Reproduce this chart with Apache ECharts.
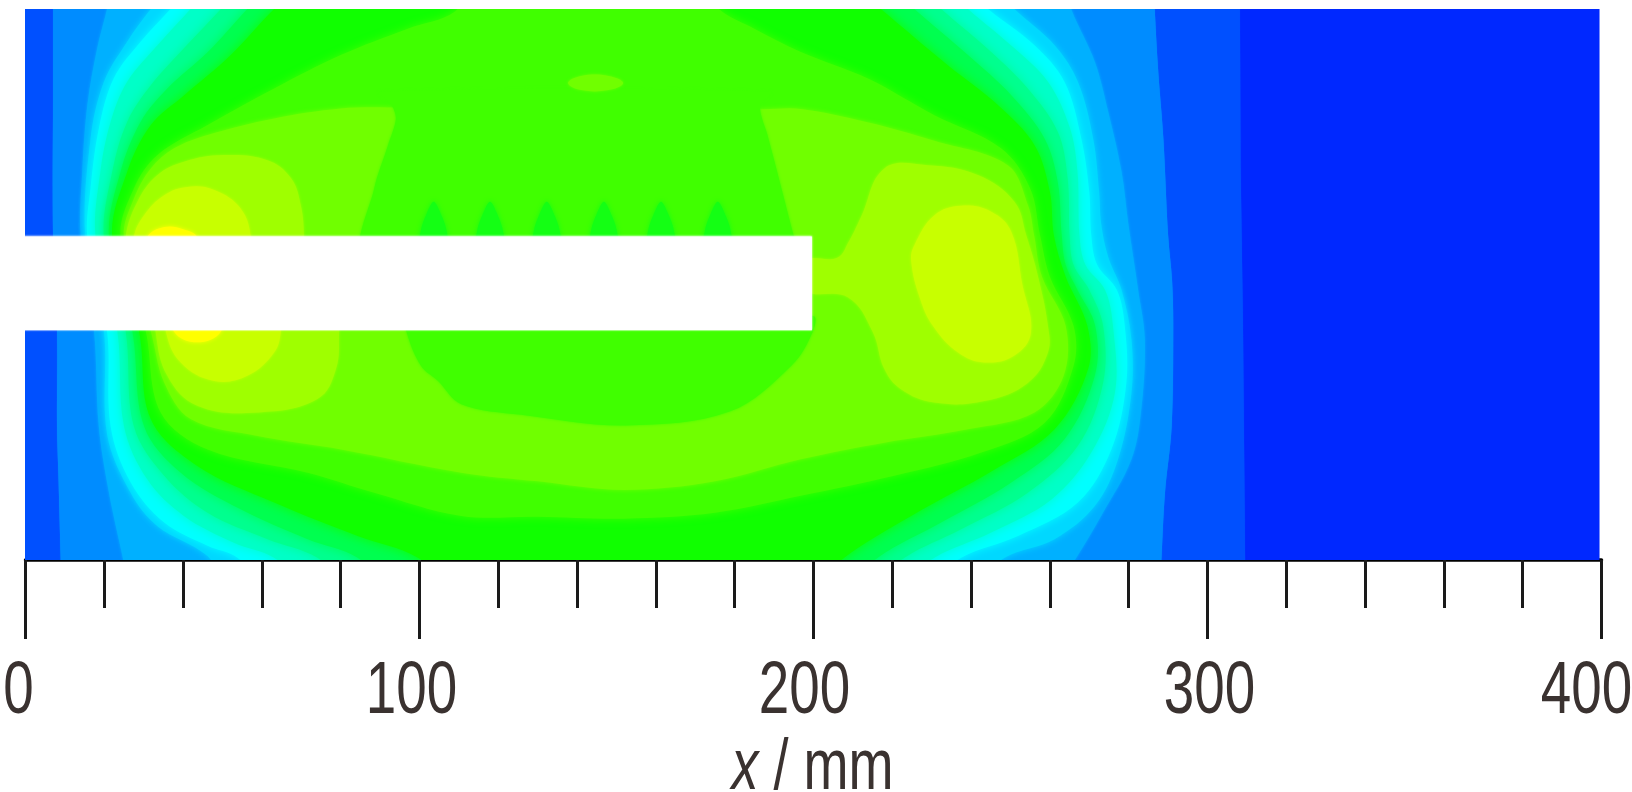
<!DOCTYPE html>
<html><head><meta charset="utf-8">
<style>html,body{margin:0;padding:0;background:#fff}#c{width:1632px;height:792px}</style>
<script src="https://cdn.jsdelivr.net/npm/echarts@6/dist/echarts.min.js"></script>
</head><body><div id="c"></div>
<script>
// Contour outlines, in data units [x mm, y mm]. Slot occupies y 58..82.2, x 0..199.6.
const level_0028ff=[[-5,-6],[-5,146],[399.5,146],[399.5,-6]];
const level_0050ff=[[-5,-6],[-5,146],[308.2,146],[308.4,100],[309,60],[309.6,-6]];
const level_008cff=[[7,82],[7,120],[7,146],[7,155],[286,155],[286.4,146],[286.6,140],[287.5,124],[288.8,107],[290,82.5],[291,71],[291.3,59.5],[290.9,34],[289.2,17],[288.3,0],[288,-6],[288,-15],[9,-15],[9,-6],[8.9,1],[8.4,20],[8,34],[8,58]];
const level_00b0ff=[[14,82.5],[14.4,98.6],[15.7,115.6],[18.2,130],[20.7,140],[22,146],[24,155],[262,155],[264,146],[265.4,140],[271.4,126.6],[274.8,113.9],[278.2,98.6],[279.9,85.5],[282.4,68.6],[284.1,56],[283.2,38.3],[280.7,25.6],[273,11.2],[266.7,0.6],[262,-6],[256,-15],[28,-15],[26,-6],[24.6,1],[21.2,17],[18.6,34],[17.4,58.2]];
const level_00d8ff=[[15.2,82],[16.5,107],[19.9,121.5],[25.8,131.7],[31.8,140],[37,146],[43,155],[239,155],[245,146],[251,140],[261.2,130.8],[267.1,121.5],[271,107],[272.5,93.5],[273,85.5],[274.8,77],[278.2,68.6],[280.7,56],[280.7,42.5],[277.3,25.6],[271.4,13.7],[261.2,5.3],[248.5,0.6],[242,-6],[235,-15],[57,-15],[50,-6],[46.2,1],[33.5,8.6],[26.7,17],[20.7,32],[19.9,58.2]];
const level_00ffff=[[15.7,82],[16.5,94.4],[18.6,109.6],[22.4,122.4],[29.2,131.7],[36.8,140],[42,146],[48,155],[232,155],[238,146],[244.3,140],[256.1,130.8],[263.7,121.5],[268,107],[270,93.5],[270.5,82.5],[272,75],[277,68.6],[279,59.5],[279.4,45],[275.6,28.1],[267.1,14.6],[251.9,6.1],[237.5,0.6],[230,-6],[222,-15],[68,-15],[60,-6],[53.8,0.6],[46.2,3.6],[35.2,9.5],[26.7,19.7],[21.6,34],[20.7,58.2]];
const level_00ffc8=[[17.8,82],[19,98.6],[21.6,111.3],[25.8,121.5],[33.5,130.8],[41.9,140],[47,146],[53,155],[227,155],[233,146],[239.2,140],[251,130],[259.5,121.5],[265,110],[267,98.6],[267.5,82.5],[269,75],[274,68.6],[276,59.5],[276.5,42.5],[270.5,27.3],[260.4,15.4],[245.1,7],[230.7,0.6],[223,-6],[215,-15],[78,-15],[70,-6],[63.1,0.6],[52.9,4.4],[40.2,11.2],[30.9,20.5],[25,34],[23.3,58.2]];
const level_00ff90=[[19.9,82],[22,98.6],[25.8,111.3],[31.8,120.6],[40.2,130],[49.6,140],[55,146],[61,155],[220,155],[226,146],[232.4,140],[245.1,129.1],[254.4,119.8],[262,108.8],[264.5,97],[265,82.5],[266,75],[270,68.6],[273.5,59.5],[273.5,45],[267.1,29],[254.4,17.1],[237.5,7.8],[223.1,0.6],[216,-6],[208,-15],[88,-15],[80,-6],[74.1,0.6],[61.4,5.3],[46.2,12],[35.2,21.4],[27.5,34],[25.4,58.2]];
const level_00ff50=[[21.2,82],[24.1,98.6],[29.2,111.3],[36,119.8],[46.2,129],[56.3,140],[62,146],[68,155],[213,155],[219,146],[225.6,140],[239.2,128.3],[250.2,118.1],[258.7,107],[262,96],[263,82.5],[264,75],[267,68.6],[271.5,59.5],[271.4,46.8],[263.7,30.7],[250.2,19.7],[232.4,9.5],[216.3,0.6],[210,-6],[202,-15],[98,-15],[90,-6],[84.3,0.6],[71.6,5.3],[54.6,12.9],[39.4,22.2],[30.1,34],[27.1,58.2]];
const level_10ff00=[[22,82],[25.8,98.6],[31.8,110.5],[40.2,118],[52.1,128.3],[63.1,140],[70,146],[76,155],[204,155],[210,146],[217.1,140],[234.1,125.7],[246.8,115.6],[256.1,105.4],[260,93.5],[261,82.5],[264,72],[269.5,59.5],[269.7,48.5],[261.2,33.2],[246,23],[224.8,11.2],[207.8,0.6],[202,-6],[195,-15],[112,-15],[105,-6],[99.6,0.6],[84.3,6.1],[63.1,14.6],[43.6,23.9],[31.8,35.8],[28.8,58.2]];
const level_40ff00=[[24.1,82],[27.5,94.4],[33.5,102.9],[46.2,110.5],[63.1,119.8],[80,128.3],[97,135],[108.9,139.3],[112,146],[116,155],[168,155],[172,146],[176,140],[185,135],[196.8,129.1],[213.7,122.4],[230.7,113],[247.6,104.6],[255,94.4],[257.5,82.5],[260,72],[266,59.5],[266,49.3],[258.7,34.9],[242.6,27.3],[220.5,21.4],[196.8,16.3],[175,12],[152,10.5],[130,11],[110.6,11.2],[88.5,17.1],[71.6,22.2],[46.2,28.1],[34.3,37.5],[30.5,58.2]];
const level_70ff00=[[25,82],[27.5,91.8],[31.8,99.5],[37.7,104.6],[46.2,108],[63.1,112.2],[80,114.7],[92,115],[187,114.5],[196.8,114.6],[213.7,111.2],[230.7,106.5],[249.3,100.3],[254.5,90],[256,82.5],[258,72],[264,59.5],[263.5,46.8],[256.1,37.5],[239.2,33.2],[218,29.8],[196.8,25.6],[175,20],[152,17.8],[130,20],[110.6,22.2],[80.1,28.1],[58.9,31.5],[41.9,35.8],[35.2,45.1],[31.8,58.2]];
const dip_upper=[[86.4,78],[88.5,94.4],[92,105.4],[94,112],[93,115.5],[90,119],[189,119],[186.5,115.5],[187,112],[188.2,108.4],[194.8,83],[196,78]];
const dip_lower=[[96.7,62],[96.7,58],[100.4,49.3],[104.7,45.5],[110.6,39.6],[125.8,36.9],[152.3,34.2],[178.7,37.7],[194.5,49.5],[199.8,58],[199.8,62]];
const top_spot=[[137.7,121.2],[141,123],[148,123],[151.7,121.2],[148,119.4],[141,119.4]];
const drop_1=[[100,78],[100.4,84],[101.8,88],[103.6,91],[105.4,88],[106.8,84],[107.2,78]];
const drop_2=[[114.3,78],[114.7,84],[116.1,88],[117.9,91],[119.7,88],[121.1,84],[121.5,78]];
const drop_3=[[128.7,78],[129.1,84],[130.5,88],[132.3,91],[134.1,88],[135.5,84],[135.9,78]];
const drop_4=[[143.2,78],[143.6,84],[145,88],[146.8,91],[148.6,88],[150,84],[150.4,78]];
const drop_5=[[157.7,78],[158.1,84],[159.5,88],[161.3,91],[163.1,88],[164.5,84],[164.9,78]];
const drop_6=[[172.1,78],[172.5,84],[173.9,88],[175.7,91],[177.5,88],[178.9,84],[179.3,78]];
const a0_left_upper=[[25.4,72],[25.4,82],[28.4,91],[33.5,97.8],[40.2,101.2],[50.4,102.9],[61.4,101.6],[67.4,97],[69.9,90],[70.7,82],[70.7,72]];
const a0_left_lower=[[33,66],[33,58.2],[36,46.8],[43.6,39.2],[58.9,37.5],[74.1,40.9],[78.8,48.5],[79.6,58.2],[79.6,66]];
const a0_right=[[198,76],[206,76.8],[209,81],[212,87],[218,99.5],[229,100.3],[241.7,97.8],[251,91],[254,82.5],[257,72],[259.5,59.5],[259.5,52.7],[254.4,45],[243.4,40.4],[230.7,40],[222.2,43.4],[218,48.5],[215,58],[208.8,66.7],[198,68.5]];
const c8_left_upper=[[27.5,72],[27.5,82],[30.1,87.6],[35.2,92.7],[41.1,94.8],[47.9,94],[54.6,89.3],[57.2,82],[57.2,72]];
const c8_left_lower=[[35.6,66],[35.6,58.2],[39.4,50.2],[47.9,45.5],[56.3,46.8],[63.1,52.7],[64.8,58.2],[64.8,66]];
const c8_right=[[224.8,76],[225.6,80],[230.7,87.6],[237.5,90],[245.1,88.5],[250.2,83.4],[253,70],[255.2,57.8],[250.9,51.9],[243.3,50.2],[236.7,52.7],[230.3,59.5],[227,66.6]];
const yellow_upper=[[30.9,76],[30.9,82],[35.2,84.6],[40.2,84],[43.6,82],[43.6,76]];
const yellow_lower=[[37.7,64],[37.7,58],[43.6,55.3],[49.6,58],[49.6,64]];
const slot_bar=[[-3,58.4],[199.6,58.4],[199.6,82.2],[-3,82.2]];

const xTickValues=[0,100,200,300,400];
const xTickLabels=['0','100','200','300','400'];
const xLabelOffsets=[-7,-8,-9,2,-15];

// [outline, fill, smoothing, edge softness]
const bands=[
 [level_0028ff,'#0028ff',0,0],[level_0050ff,'#0050ff',0,1],[level_008cff,'#008cff',0.35,1],[level_00b0ff,'#00b0ff',0.35,3],
 [level_00d8ff,'#00d8ff',0.35,6],[level_00ffff,'#00ffff',0.35,8],[level_00ffc8,'#00ffc8',0.35,12],[level_00ff90,'#00ff90',0.35,12],
 [level_00ff50,'#00ff50',0.35,12],[level_10ff00,'#10ff00',0.35,12],[level_40ff00,'#40ff00',0.35,8],[level_70ff00,'#70ff00',0.35,4],
 [dip_upper,'#40ff00',0.3,3],[dip_lower,'#40ff00',0.35,3],[top_spot,'#70ff00',0.4,3],
 [drop_1,'#14ff14',0.3,5],[drop_2,'#14ff14',0.3,5],[drop_3,'#14ff14',0.3,5],[drop_4,'#14ff14',0.3,5],[drop_5,'#14ff14',0.3,5],[drop_6,'#14ff14',0.3,5],
 [a0_left_upper,'#9fff00',0.4,3],[a0_left_lower,'#9fff00',0.4,3],[a0_right,'#9fff00',0.4,3],
 [c8_left_upper,'#c8ff00',0.4,3],[c8_left_lower,'#c8ff00',0.4,3],[c8_right,'#c8ff00',0.4,3],
 [yellow_upper,'#ffff00',0.4,4],[yellow_lower,'#ffff00',0.4,4],[slot_bar,'#ffffff',0,2]
];
const font="'Liberation Sans',Arial,sans-serif";
const textColor='#3a3230';
const chart=echarts.init(document.getElementById('c'),null,{renderer:'canvas'});
chart.setOption({
 animation:false,
 grid:{left:25.5,top:9,width:1576,height:551,containLabel:false,outerBoundsMode:'none'},
 xAxis:{type:'value',min:0,max:400,interval:100,
  axisLine:{show:true,onZero:false,lineStyle:{color:'#000',width:3.5}},
  axisTick:{show:true,length:79,lineStyle:{color:'#1a1a1a',width:3}},
  minorTick:{show:true,splitNumber:5,length:48,lineStyle:{color:'#1a1a1a',width:3}},
  splitLine:{show:false},minorSplitLine:{show:false},axisLabel:{show:false}},
 yAxis:{type:'value',min:0,max:140,show:false},
 series:[
 {type:'custom',coordinateSystem:'cartesian2d',clip:true,silent:true,z:1,
  data:bands.map((b,i)=>[i]),encode:{x:0},
  renderItem:(p,api)=>{const b=bands[api.value(0)];
   return {type:'polygon',shape:{points:b[0].map(q=>api.coord(q)),smooth:b[2]},
    style:{fill:b[1],shadowBlur:b[3],shadowColor:b[1]}};}},
 {type:'custom',coordinateSystem:'cartesian2d',clip:false,silent:true,z:5,
  data:xTickValues.map((v,i)=>[v,i]),encode:{x:0},
  renderItem:(p,api)=>{const i=api.value(1),pt=api.coord([api.value(0),0]);
   return {type:'text',x:pt[0]+xLabelOffsets[i],y:pt[1]+133,scaleX:0.74,
    style:{text:xTickLabels[i],fontFamily:font,fontSize:74,fill:textColor,align:'center',verticalAlign:'middle'}};}},
 {type:'custom',coordinateSystem:'cartesian2d',clip:false,silent:true,z:5,
  data:[[200]],encode:{x:0},
  renderItem:(p,api)=>{const pt=api.coord([api.value(0),0]);
   return {type:'text',x:pt[0]-1,y:pt[1]+209,scaleX:0.74,
    style:{text:'{i|x}{n| / mm}',fontFamily:font,fontSize:73,fill:textColor,align:'center',verticalAlign:'middle',
     rich:{i:{fontFamily:font,fontSize:73,fontStyle:'italic',fill:textColor},n:{fontFamily:font,fontSize:73,fill:textColor}}}};}}
 ]
});
</script></body></html>
